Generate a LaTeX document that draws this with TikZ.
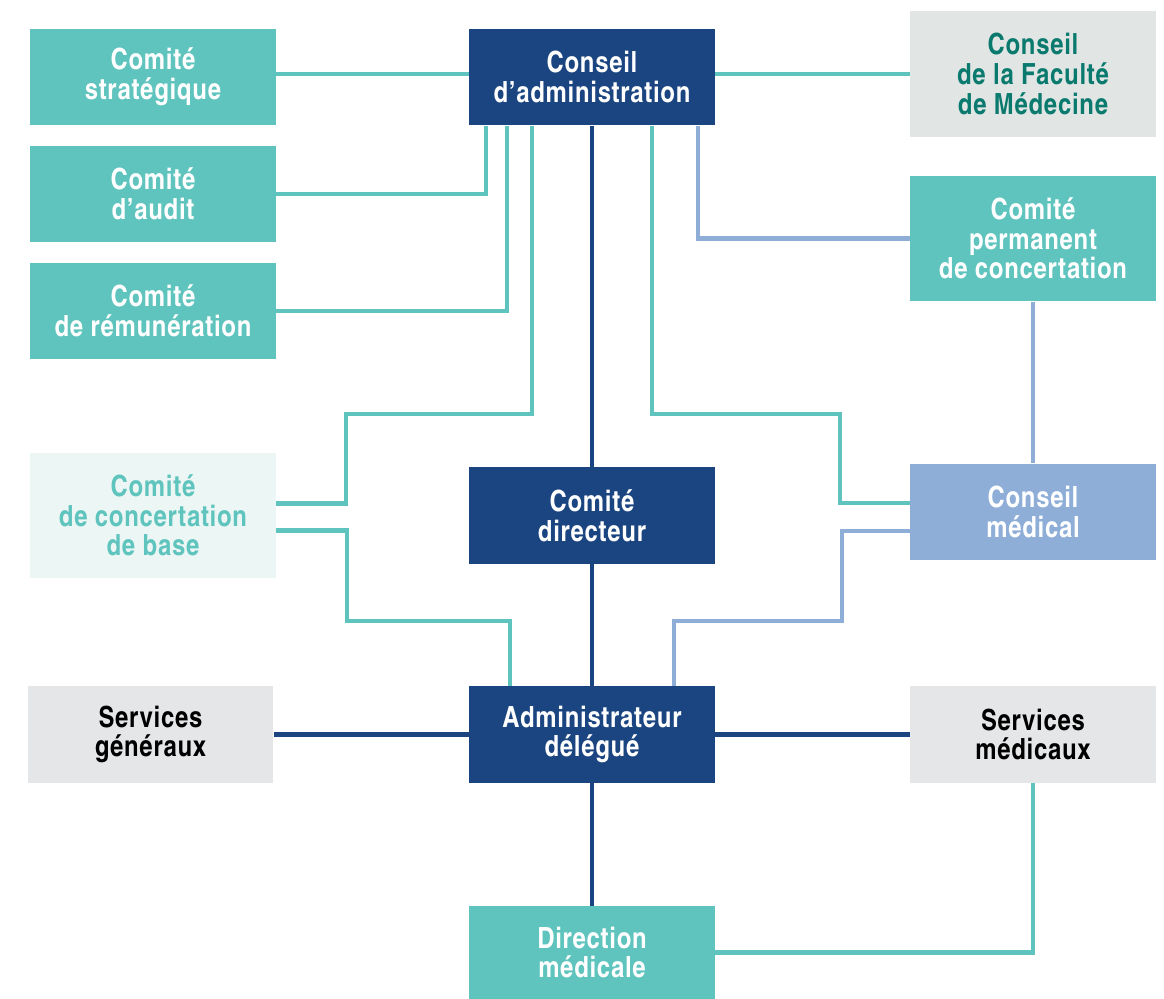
\documentclass[tikz,border=0pt]{standalone}
\usepackage{fontspec}
\setmainfont{texgyreheroscn-bold.otf}[LetterSpace=2.5]
\usepackage{tikz}
\usetikzlibrary{positioning,calc}

\definecolor{orgteal}{HTML}{5EC4BD}
\definecolor{orgdark}{HTML}{1B4580}
\definecolor{orgblue}{HTML}{8EAED8}
\definecolor{orggray}{HTML}{E5E6E8}
\definecolor{orgfac}{HTML}{E1E6E5}
\definecolor{orgfactext}{HTML}{0A7A6E}
\definecolor{orgpale}{HTML}{ECF6F4}

\begin{document}
\begin{tikzpicture}[x=0.02cm,y=-0.02cm,
    orgbox/.style={rectangle, inner sep=0pt, minimum width=4.92cm, minimum height=1.94cm,
      align=center, font=\fontsize{16.6}{16.9}\selectfont},
    tallbox/.style={orgbox, minimum height=2.52cm},
    tealbox/.style={orgbox, fill=orgteal, text=white},
    darkbox/.style={orgbox, fill=orgdark, text=white},
    bluebox/.style={orgbox, fill=orgblue, text=white},
    graybox/.style={orgbox, fill=orggray, text=black},
    tealline/.style={orgteal, line width=2.7pt},
    darkline/.style={orgdark, line width=2.8pt},
    blueline/.style={orgblue, line width=2.7pt}]
      \useasboundingbox (0,0) rectangle (1164,999);
      % left column
      \node[tealbox] at (153,77) (strat) {Comité\\stratégique};
      \node[tealbox] at (153,194) (audit) {Comité\\d’audit};
      \node[tealbox] at (153,311) (remun) {Comité\\de rémunération};
      \node[tallbox, fill=orgpale, text=orgteal] at (153,515.5) (base) {Comité\\de concertation\\de base};
      \node[graybox] at (150.5,734.5) (servgen) {Services\\généraux};
      % middle column
      \node[darkbox] at (592,77) (ca) {Conseil\\d’administration};
      \node[darkbox] at (592,515.5) (dir) {Comité\\directeur};
      \node[darkbox] at (592,734.5) (admin) {Administrateur\\délégué};
      \node[tealbox, minimum height=1.86cm] at (592,952.5) (dirmed) {Direction\\médicale};
      % right column
      \node[tallbox, fill=orgfac, text=orgfactext] at (1033,74) (fac) {Conseil\\de la Faculté\\de Médecine};
      \node[tallbox, fill=orgteal, text=white] at (1033,238.5) (perm) {Comité\\permanent\\de concertation};
      \node[bluebox] at (1033,512) (cmed) {Conseil\\médical};
      \node[graybox] at (1033,734.5) (servmed) {Services\\médicaux};
      % connectors
      \draw[tealline] (strat.east |- fac.west) -- (ca.west |- fac.west);
      \draw[tealline] (ca.east |- fac.west) -- (fac.west);
      \draw[tealline] (audit.east) -| ($(ca.south)+(-106,0)$);
      \draw[tealline] (remun.east) -| ($(ca.south)+(-85,0)$);
      \draw[tealline] ($(base.east)+(0,-12)$) -| (346,414) -| ($(ca.south)+(-60,0)$);
      \draw[tealline] ($(base.east)+(0,15)$) -| (347,621) -| ($(admin.north)+(-82,0)$);
      \draw[tealline] ($(ca.south)+(60,0)$) |- (840,414) |- ($(cmed.west)+(0,-9)$);
      \draw[blueline] ($(ca.south)+(106,0)$) |- (perm.west);
      \draw[blueline] (perm.south) -- (cmed.north);
      \draw[blueline] ($(cmed.west)+(0,19)$) -| (842,621) -| ($(admin.north)+(82,0)$);
      \draw[darkline] (ca.south) -- (dir.north);
      \draw[darkline] (dir.south) -- (admin.north);
      \draw[darkline] (admin.south) -- (dirmed.north);
      \draw[darkline] (servgen.east) -- (admin.west);
      \draw[darkline] (admin.east) -- (servmed.west);
      \draw[tealline] (dirmed.east) -| (servmed.south);
\end{tikzpicture}
\end{document}
